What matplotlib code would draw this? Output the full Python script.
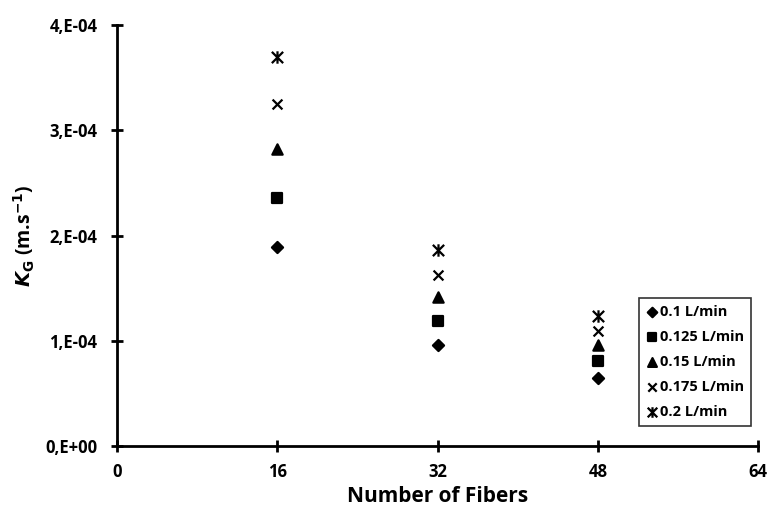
import matplotlib.pyplot as plt
from matplotlib.path import Path
from matplotlib.ticker import FuncFormatter

plt.rcParams['font.family'] = ['Open Sans', 'DejaVu Sans']
plt.rcParams['font.weight'] = 'bold'

#---Data---
Fibers = [16, 32, 48]
Labels = ["0.1 L/min", "0.125 L/min", "0.15 L/min", "0.175 L/min", "0.2 L/min"]
KG_01 = [1.89e-4, 0.96e-4, 0.65e-4]
KG_0125 = [2.36e-4, 1.19e-4, 0.81e-4]
KG_015 = [2.82e-4, 1.42e-4, 0.96e-4]
KG_0175 = [3.25e-4, 1.63e-4, 1.09e-4]
KG_02 = [3.70e-4, 1.86e-4, 1.24e-4]
Series = [KG_01, KG_0125, KG_015, KG_0175, KG_02]

#Excel style star: an X with a vertical bar through it
Star = Path([(-1, -1), (1, 1), (-1, 1), (1, -1), (0, -1.1), (0, 1.1)],
            [Path.MOVETO, Path.LINETO, Path.MOVETO, Path.LINETO, Path.MOVETO, Path.LINETO])
Markers = ["D", "s", "^", "x", Star]
Sizes = [32, 55, 55, 50, 80]

fig = plt.figure(figsize=(7.69, 5.11), dpi=100)
ax = fig.add_axes([0.152, 0.127, 0.834, 0.824])

for Vals, Lab, M, S in zip(Series, Labels, Markers, Sizes):
    ax.scatter(Fibers, Vals, marker=M, s=S, c="black", linewidths=1.6, label=Lab)

ax.set_xlim(0, 64)
ax.set_ylim(0, 4e-4)
ax.set_xticks([0, 16, 32, 48, 64])
ax.set_yticks([0, 1e-4, 2e-4, 3e-4, 4e-4])
ax.yaxis.set_major_formatter(FuncFormatter(lambda v, p: "0,E+00" if v == 0 else "%d,E-04" % round(v * 1e4)))

for s in ["top", "right"]:
    ax.spines[s].set_visible(False)
for s in ["left", "bottom"]:
    ax.spines[s].set_linewidth(2)
ax.tick_params(direction="inout", length=8, width=2, labelsize=12)
ax.tick_params(axis="y", pad=10)
ax.tick_params(axis="x", pad=8)

ax.set_xlabel("Number of Fibers", fontsize=15, fontweight="bold", labelpad=4)
ax.set_ylabel(r"$\boldsymbol{K}_\mathbf{G}$ (m.s$^{\mathbf{-1}}$)", fontsize=14, fontweight="bold", labelpad=6)

Leg = ax.legend(loc="lower right", bbox_to_anchor=(1.0, 0.03), prop={"size": 10.5, "weight": "bold"},
                frameon=True, fancybox=False, edgecolor="black", handletextpad=0.1,
                handlelength=0.8, borderpad=0.5, labelspacing=0.75, markerscale=0.85)
Leg.get_frame().set_linewidth(1.2)

fig.savefig("out.png", dpi=100)
